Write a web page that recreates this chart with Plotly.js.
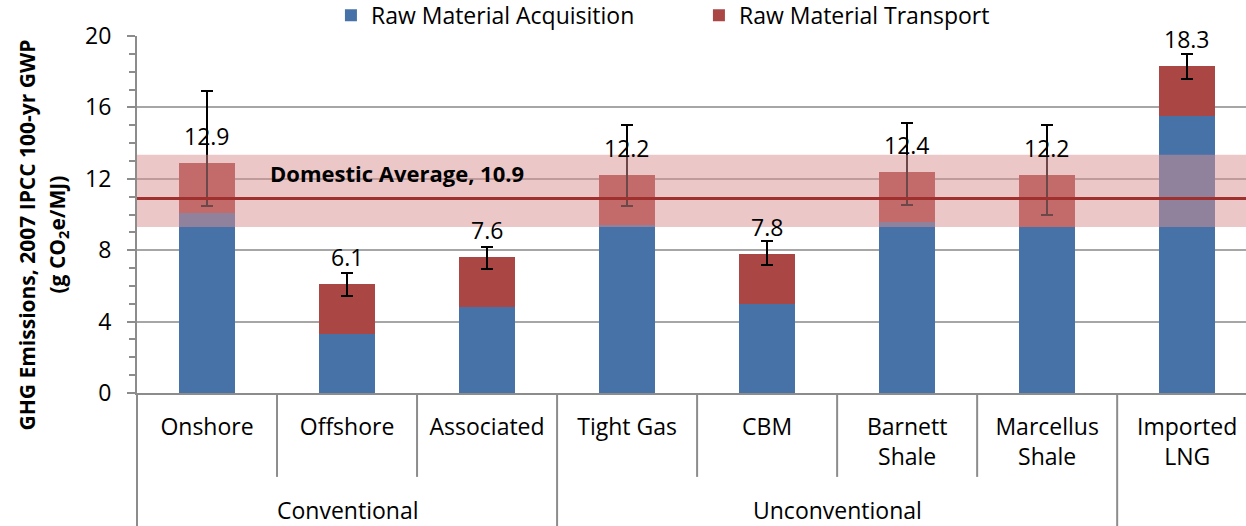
<!DOCTYPE html>
<html>
<head>
<meta charset="utf-8">
<script src="https://cdn.plot.ly/plotly-3.0.1.min.js"></script>
<style>
  html, body { margin: 0; padding: 0; background: #fff; }
  #chart { width: 1246px; height: 526px; }
</style>
</head>
<body>
<div id="chart"></div>
<script>
// ---- Data ----
const categories = ['Onshore', 'Offshore', 'Associated', 'Tight Gas', 'CBM', 'Barnett<br>Shale', 'Marcellus<br>Shale', 'Imported<br>LNG'];
const acquisition = [10.1, 3.3, 4.8, 9.4, 5.0, 9.6, 9.3, 15.5];
const transport   = [2.8, 2.8, 2.8, 2.8, 2.8, 2.8, 2.9, 2.8];
const totalLabels = ['12.9', '6.1', '7.6', '12.2', '7.8', '12.4', '12.2', '18.3'];
const errPlus  = [4.0, 0.6, 0.6, 2.8, 0.7, 2.7, 2.8, 0.7];
const errMinus = [2.45, 0.65, 0.65, 1.75, 0.65, 1.85, 2.2, 0.7];
const groups = ['Conventional', 'Unconventional'];
const groupSpans = [[0, 2], [3, 6]];
const groupBoundaries = [2.5, 6.5];
const categoryBoundaries = [0.5, 1.5, 3.5, 4.5, 5.5];
const domesticAverage = 10.9;
const domesticRange = [9.3, 13.35];
const seriesNames = ['Raw Material Acquisition', 'Raw Material Transport'];
const yTitleLines = ['GHG Emissions, 2007 IPCC 100-yr GWP', '(g CO<sub>2</sub>e/MJ)'];

const FONT = 'Open Sans, Noto Sans, sans-serif';
const FS = 23;
const xIdx = categories.map((_, i) => i);
const totals = acquisition.map((a, i) => a + transport[i]);

const traces = [
  {
    type: 'bar', name: seriesNames[0], x: xIdx, y: acquisition,
    marker: { color: '#4672A8' }, width: 0.4, hoverinfo: 'skip'
  },
  {
    type: 'bar', name: seriesNames[1], x: xIdx, y: transport,
    marker: { color: '#AA4745' }, width: 0.4, hoverinfo: 'skip',
    error_y: { type: 'data', symmetric: false, array: errPlus, arrayminus: errMinus,
               color: '#000', thickness: 2, width: 6 }
  }
];

const annotations = totals.map((t, i) => ({
  x: i, y: t, xref: 'x', yref: 'y', text: totalLabels[i], showarrow: false,
  yanchor: 'middle', yshift: 27, font: { family: FONT, size: FS, color: '#000' }
}));

annotations.push({
  x: 1.36, y: 12.3, xref: 'x', yref: 'y', text: 'Domestic Average, ' + domesticAverage,
  showarrow: false, font: { family: FONT, size: 22, color: '#000', weight: 'bold' }
});

groups.forEach((g, k) => {
  annotations.push({
    x: (groupSpans[k][0] + groupSpans[k][1]) / 2, y: -0.328, xref: 'x', yref: 'paper',
    text: g, showarrow: false, yanchor: 'middle',
    font: { family: FONT, size: FS, color: '#000' }
  });
});

const yTitleX = [-0.0983, -0.0712];
yTitleLines.forEach((t, k) => annotations.push({
  x: yTitleX[k], y: 0.444, xref: 'paper', yref: 'paper', textangle: -90,
  text: t, showarrow: false, xanchor: 'center', yanchor: 'middle',
  font: { family: FONT, size: 21, color: '#000', weight: 'bold' }
}));

const shapes = [
  { type: 'rect', xref: 'paper', yref: 'y', x0: 0, x1: 1, y0: domesticRange[0], y1: domesticRange[1],
    fillcolor: 'rgba(217,144,144,0.5)', line: { width: 0 }, layer: 'above' },
  { type: 'line', xref: 'paper', yref: 'y', x0: 0, x1: 1, y0: domesticAverage, y1: domesticAverage,
    line: { color: '#A0302E', width: 3 }, layer: 'above' },
  { type: 'line', xref: 'paper', yref: 'paper', x0: 0, x1: 0, y0: 0, y1: -0.38,
    line: { color: '#8C8C8C', width: 2 } }
];
groupBoundaries.forEach(b => shapes.push({
  type: 'line', xref: 'x', yref: 'paper', x0: b, x1: b, y0: 0, y1: -0.38,
  line: { color: '#8C8C8C', width: 2 }
}));
categoryBoundaries.forEach(b => shapes.push({
  type: 'line', xref: 'x', yref: 'paper', x0: b, x1: b, y0: 0, y1: -0.235,
  line: { color: '#8C8C8C', width: 2 }
}));

const layout = {
  width: 1246, height: 526,
  margin: { l: 137, r: 0, t: 36, b: 133, autoexpand: false },
  paper_bgcolor: '#fff', plot_bgcolor: '#fff',
  barmode: 'stack',
  showlegend: true,
  legend: {
    orientation: 'h', x: 0.5067, xanchor: 'center', y: 1.118, yanchor: 'top',
    font: { family: FONT, size: FS, color: '#000' }, traceorder: 'normal',
    itemwidth: 30, entrywidth: 323, entrywidthmode: 'pixels'
  },
  font: { family: FONT, color: '#000' },
  xaxis: {
    type: 'linear', range: [-0.5, 7.42], tickmode: 'array', tickvals: xIdx, ticktext: categories,
    ticks: '', showgrid: false, zeroline: false, showline: true, linecolor: '#8C8C8C', linewidth: 2,
    tickfont: { family: FONT, size: FS, color: '#000' }, ticklabelstandoff: 12, automargin: false
  },
  yaxis: {
    range: [0, 20], dtick: 4, tick0: 0, ticks: 'outside', ticklen: 8, tickwidth: 2, tickcolor: '#8C8C8C',
    showline: true, linecolor: '#8C8C8C', linewidth: 2, zeroline: false,
    showgrid: true, gridcolor: '#A6A6A6', gridwidth: 2,
    minor: { dtick: 1, ticks: 'outside', ticklen: 6, tickwidth: 2, tickcolor: '#8C8C8C', showgrid: false },
    tickfont: { family: FONT, size: FS, color: '#000' }, ticklabelstandoff: 11, automargin: false
  },
  annotations: annotations,
  shapes: shapes
};

Plotly.newPlot('chart', traces, layout, { displayModeBar: false, staticPlot: true });
</script>
</body>
</html>
